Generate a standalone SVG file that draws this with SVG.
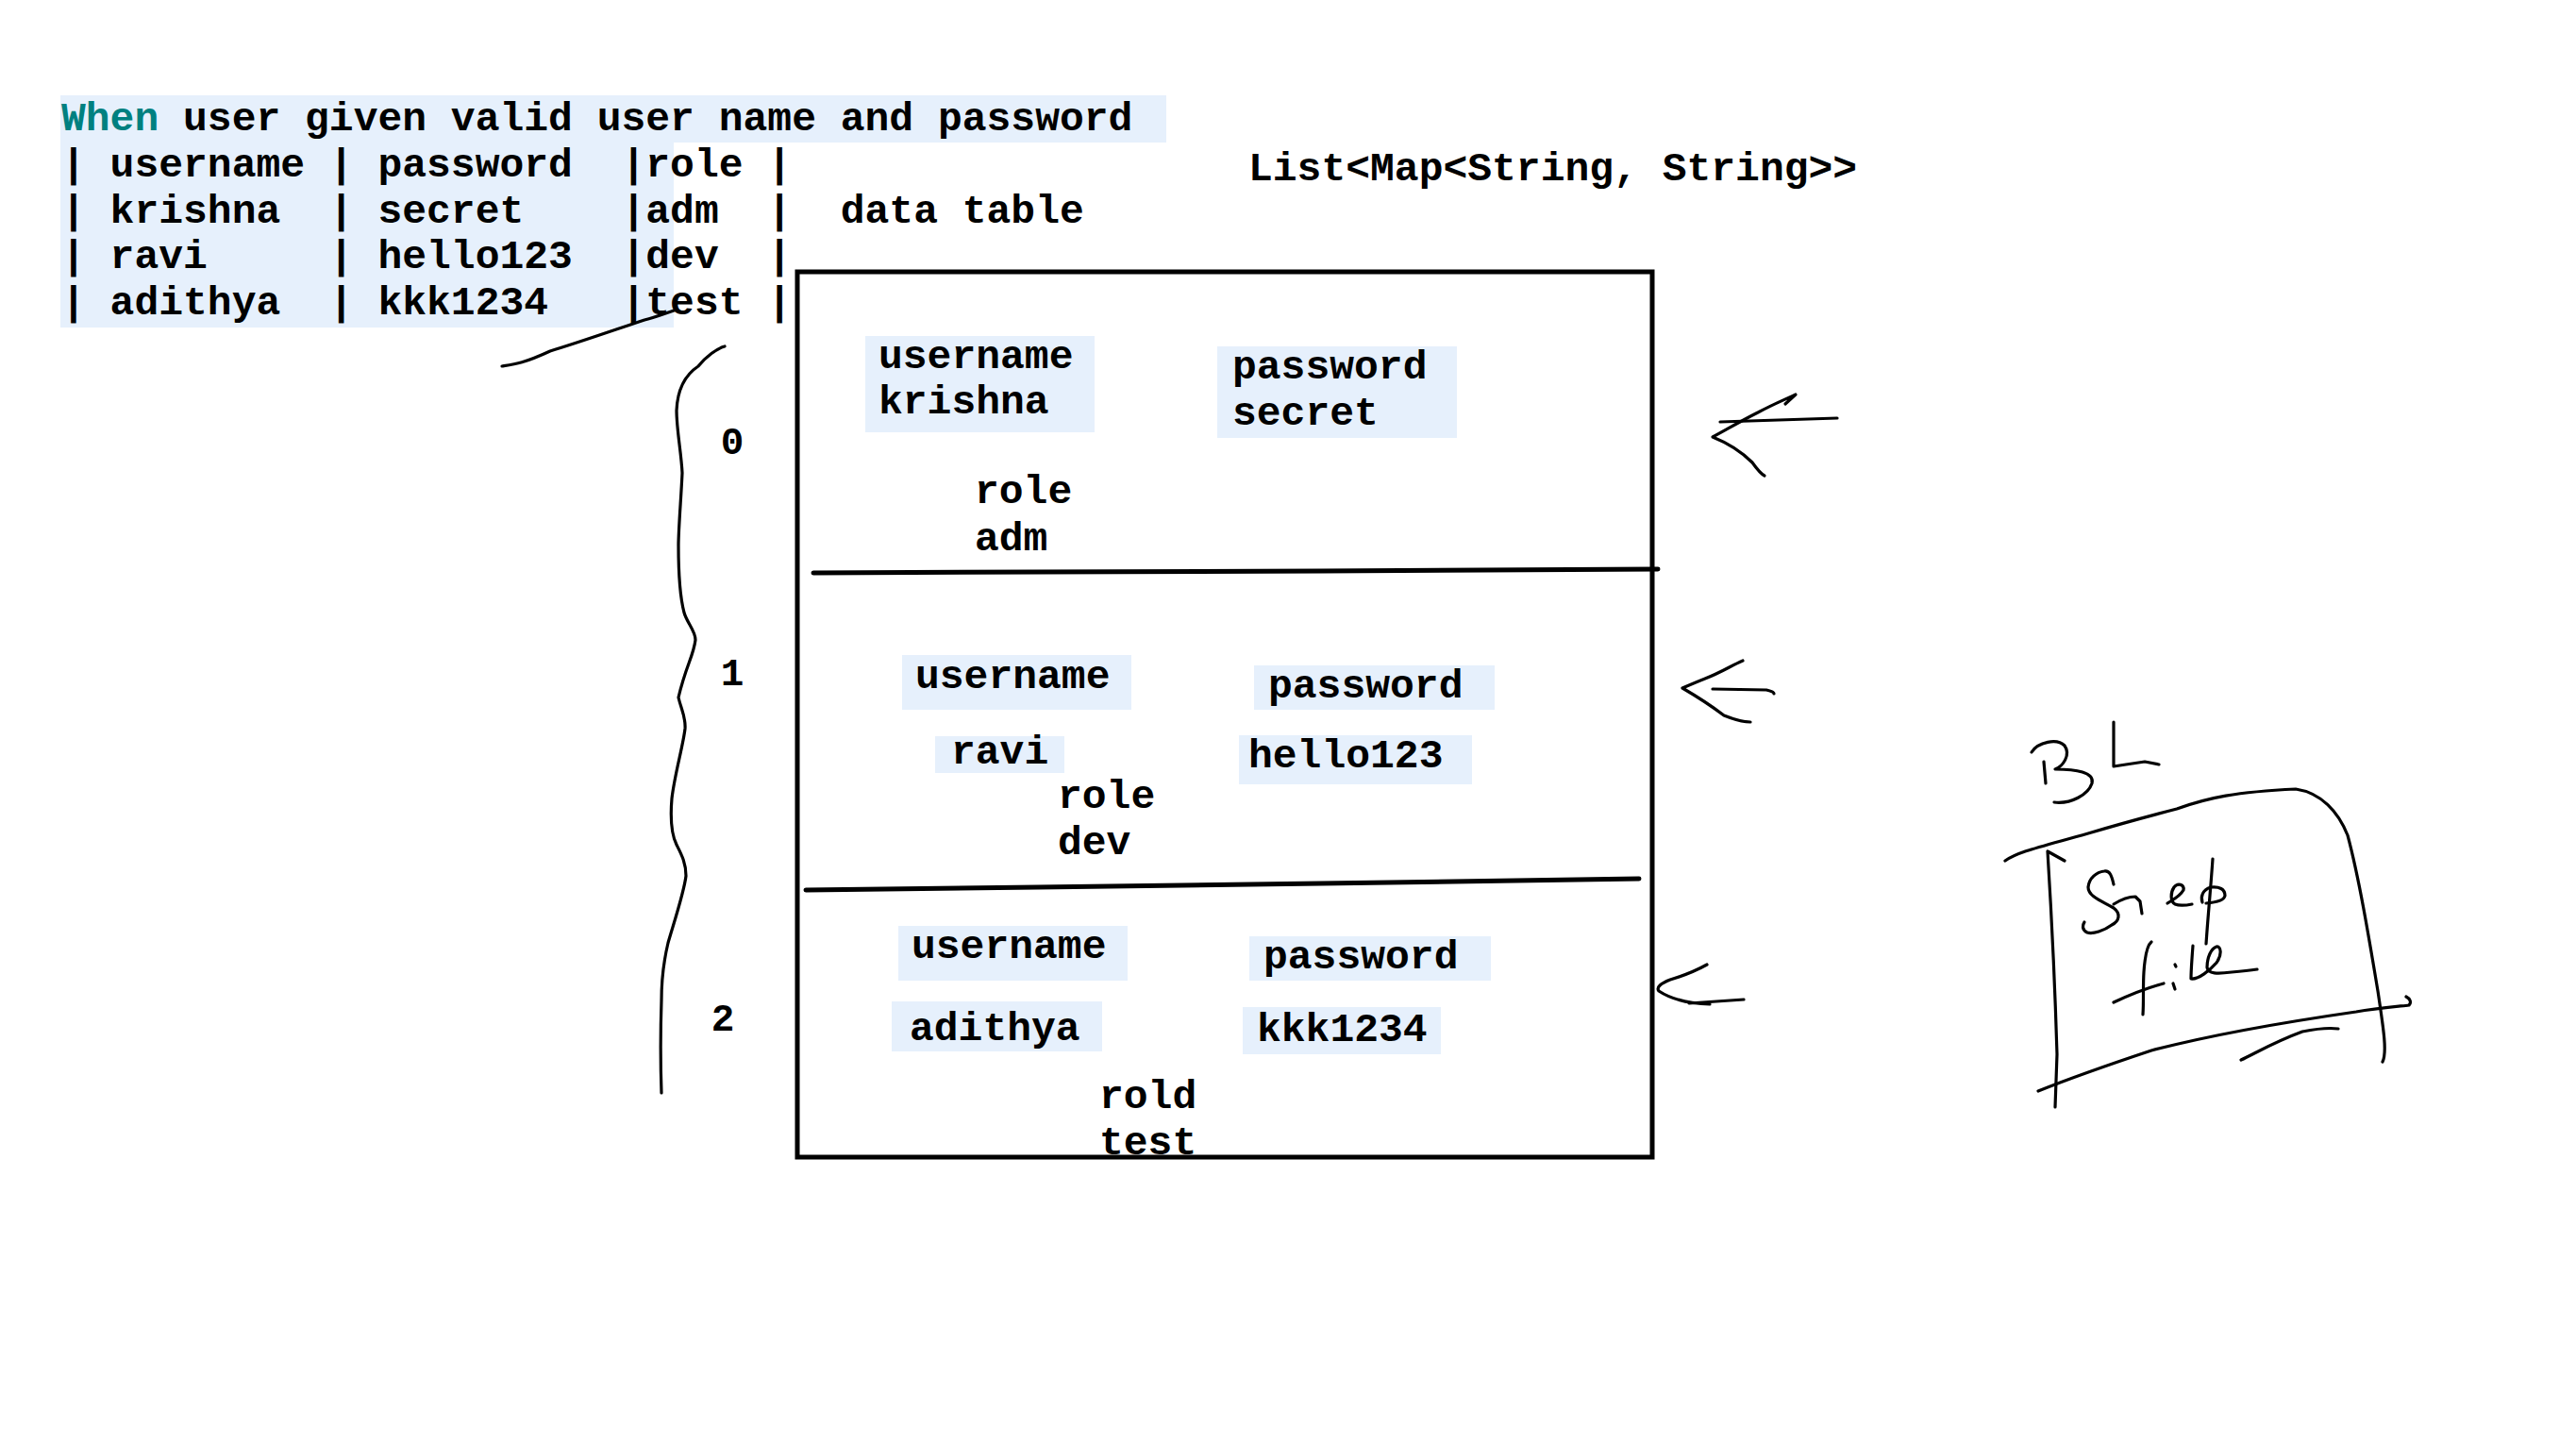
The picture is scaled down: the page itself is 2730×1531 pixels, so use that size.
<svg xmlns="http://www.w3.org/2000/svg" width="2730" height="1531" viewBox="0 0 2730 1531">
<style>
.t{font-family:"Liberation Mono","Courier New",monospace;font-weight:bold;font-size:43px;fill:#000;white-space:pre}
.d{font-family:"Liberation Mono","Courier New",monospace;font-weight:bold;font-size:41px;fill:#000;text-anchor:middle}
.hl{fill:#E6F0FC}
.ink{fill:none;stroke:#000;stroke-width:3.2;stroke-linecap:round;stroke-linejoin:round}
.heavy{fill:none;stroke:#000;stroke-width:5;stroke-linecap:round}
</style>
<rect width="2730" height="1531" fill="#fff"/>
<g id="header">
<rect class="hl" x="64" y="101" width="1172" height="50"/>
<rect class="hl" x="64" y="150" width="650" height="197"/>
<text class="t" x="65" y="138" xml:space="preserve"><tspan fill="#008080">When</tspan> user given valid user name and password</text>
<text class="t" x="65" y="187" xml:space="preserve">| username | password  |role |</text>
<text class="t" x="65" y="236" xml:space="preserve">| krishna  | secret    |adm  |  data table</text>
<text class="t" x="65" y="284" xml:space="preserve">| ravi     | hello123  |dev  |</text>
<text class="t" x="65" y="333" xml:space="preserve">| adithya  | kkk1234   |test |</text>
</g>
<g id="type-label">
<text class="t" x="1323" y="191" xml:space="preserve">List&lt;Map&lt;String, String&gt;&gt;</text>
</g>
<g id="list-box">
<rect x="845" y="288" width="906" height="938" fill="none" stroke="#000" stroke-width="5"/>
<path class="heavy" d="M862,607 L1100,606 L1400,605 L1757,603"/>
<path class="heavy" d="M854,943 L1100,940 L1400,936 L1737,931"/>
</g>
<g id="row-0">
<rect class="hl" x="917" y="356" width="243" height="102"/>
<rect class="hl" x="1290" y="367" width="254" height="97"/>
<text class="t" x="931" y="390">username</text>
<text class="t" x="931" y="438">krishna</text>
<text class="t" x="1306" y="401">password</text>
<text class="t" x="1306" y="450">secret</text>
<text class="t" x="1033" y="533">role</text>
<text class="t" x="1033" y="583">adm</text>
<text class="d" x="776" y="481">0</text>
</g>
<g id="row-1">
<rect class="hl" x="956" y="694" width="243" height="58"/>
<rect class="hl" x="1329" y="705" width="255" height="47"/>
<rect class="hl" x="991" y="780" width="137" height="39"/>
<rect class="hl" x="1313" y="779" width="247" height="52"/>
<text class="t" x="970" y="729">username</text>
<text class="t" x="1344" y="739">password</text>
<text class="t" x="1008" y="809">ravi</text>
<text class="t" x="1323" y="813">hello123</text>
<text class="t" x="1121" y="856">role</text>
<text class="t" x="1121" y="905">dev</text>
<text class="d" x="776" y="726">1</text>
</g>
<g id="row-2">
<rect class="hl" x="952" y="981" width="243" height="58"/>
<rect class="hl" x="1324" y="992" width="256" height="47"/>
<rect class="hl" x="945" y="1061" width="223" height="53"/>
<rect class="hl" x="1317" y="1067" width="210" height="50"/>
<text class="t" x="966" y="1015">username</text>
<text class="t" x="1339" y="1026">password</text>
<text class="t" x="964" y="1102">adithya</text>
<text class="t" x="1332" y="1103">kkk1234</text>
<text class="t" x="1165" y="1174">rold</text>
<text class="t" x="1165" y="1223">test</text>
<text class="d" x="766" y="1092">2</text>
</g>
<g id="bl-step-file">
<path class="ink" d="M2166,807 L2168,830"/>
<path class="ink" d="M2153,797 C2160,786 2180,782 2188,790 C2195,800 2186,812 2178,815 C2200,815 2220,818 2217,830 C2213,842 2195,852 2177,850"/>
<path class="ink" d="M2240,765 L2240,812 L2253,810 L2273,807 L2288,810"/>
<path class="ink" d="M2125,912 C2140,902 2160,898 2213,883 C2250,872 2280,864 2307,857 C2340,845 2370,839 2433,836 C2460,840 2478,860 2488,885 C2500,930 2510,990 2520,1050 C2526,1090 2530,1115 2525,1125"/>
<path class="ink" d="M2188,912 L2170,902 C2173,950 2178,1050 2180,1117 L2178,1173"/>
<path class="ink" d="M2160,1156 C2180,1148 2220,1133 2280,1113 C2330,1100 2400,1086 2497,1072 C2520,1068 2545,1066 2553,1065 C2556,1062 2554,1058 2550,1056"/>
<path class="ink" d="M2375,1123 C2390,1116 2410,1104 2440,1093 C2455,1090 2470,1089 2478,1090"/>
<path class="ink" d="M2240,937 C2238,928 2236,922 2230,923 C2222,924 2214,930 2213,940 C2213,950 2228,955 2240,962 C2248,968 2246,976 2238,980 C2230,986 2218,990 2212,988 C2206,985 2207,980 2209,977"/>
<path class="ink" d="M2240,958 C2248,953 2256,950 2263,950 L2268,955 L2270,968"/>
<path class="ink" d="M2297,957 C2303,953 2310,950 2314,943 C2315,937 2308,935 2304,940 C2300,946 2300,955 2305,958 C2310,960 2318,959 2323,958"/>
<path class="ink" d="M2345,910 C2343,940 2340,970 2338,1000"/>
<path class="ink" d="M2334,956 C2332,950 2334,943 2343,940 C2352,939 2358,942 2358,949 C2357,954 2350,956 2338,957"/>
<path class="ink" d="M2280,998 C2275,1002 2273,1015 2272,1030 C2271,1045 2272,1060 2271,1075"/>
<path class="ink" d="M2240,1062 C2255,1055 2270,1048 2293,1042"/>
<path class="ink" d="M2305,1022 L2306,1024"/>
<path class="ink" d="M2303,1042 L2305,1048"/>
<path class="ink" d="M2324,1002 C2323,1015 2322,1028 2322,1037 C2330,1038 2342,1028 2349,1020 C2355,1012 2354,1002 2349,1003 C2343,1005 2339,1015 2339,1025 C2340,1032 2350,1032 2365,1030 C2378,1029 2386,1028 2392,1027"/>
</g>
<g id="connectors">
<path class="ink" d="M532,388 C545,386 555,385 583,372 C610,364 650,350 683,339 C695,336 705,332 717,328"/>
<path class="ink" d="M768,367 C760,369 748,378 740,388 C728,396 718,410 717,435 C717,455 722,480 723,501 C722,525 719,560 719,578 C719,600 720,630 725,649 C728,660 737,668 737,678 C735,695 727,705 719,739 C722,752 727,760 726,772 C724,790 715,820 712,846 C710,870 712,885 717,895 C722,905 727,914 727,928 C725,945 715,975 708,999 C703,1020 701,1040 701,1060 C700,1090 700,1130 701,1158"/>
<path class="ink" d="M1823,447 L1947,443"/>
<path class="ink" d="M1892,428 L1903,418 C1890,424 1880,428 1863,437 C1845,446 1830,455 1815,463 C1830,469 1845,478 1857,490 C1862,497 1866,502 1870,504"/>
<path class="ink" d="M1815,730 L1872,731 C1876,732 1880,733 1880,735"/>
<path class="ink" d="M1847,700 C1835,705 1825,712 1807,719 C1797,723 1790,726 1783,729 C1795,736 1810,745 1827,758 C1837,762 1847,765 1855,765"/>
<path class="ink" d="M1809,1022 C1800,1027 1790,1032 1770,1038 C1760,1042 1755,1046 1758,1050 C1770,1058 1785,1063 1812,1064"/>
<path class="ink" d="M1790,1063 L1848,1059"/>
</g>
</svg>
